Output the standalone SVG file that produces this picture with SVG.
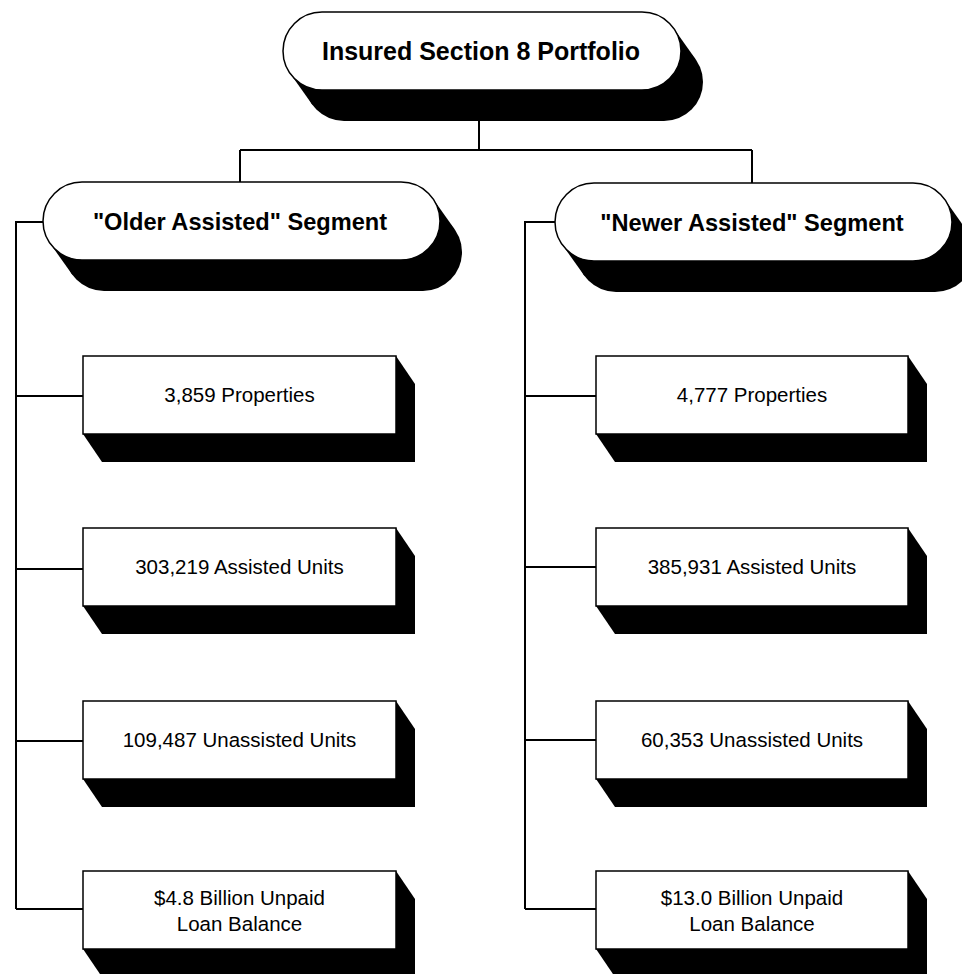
<svg xmlns="http://www.w3.org/2000/svg" width="962" height="974" viewBox="0 0 962 974">
<style>
.bg{fill:#fff}
.sh{fill:#000;stroke:none}
.pill{fill:#fff;stroke:#000;stroke-width:1.5}
.box{fill:#fff;stroke:#000;stroke-width:1.5}
.conn{fill:none;stroke:#000;stroke-width:2}
.tb{font-family:"Liberation Sans",Arial,sans-serif;font-weight:bold;fill:#000;text-anchor:middle}
.tr{font-family:"Liberation Sans",Arial,sans-serif;font-size:20.5px;fill:#000;text-anchor:middle}
</style>
<rect class="bg" x="0" y="0" width="962" height="974"/>
<g id="connectors">
<path class="conn" d="M479,121 V150 M240,150 H752 M240,150 V182 M752,150 V184"/>
<path class="conn" d="M43,222 H16 V909 M16,396 H83 M16,569 H83 M16,741 H83 M16,909 H83"/>
<path class="conn" d="M555,222 H525 V909 M525,396 H596 M525,567 H596 M525,740 H596 M525,909 H596"/>
</g>
<g id="root">
<rect class="sh" x="305" y="43" width="398" height="78" rx="39" ry="39"/>
<polygon class="sh" points="673.8,28.4 695.8,59.4 312.2,104.6 290.2,73.6"/>
<rect class="pill" x="283" y="12" width="398" height="78" rx="39" ry="39"/>
<text class="tb" x="481" y="60" font-size="25">Insured Section 8 Portfolio</text>
</g>
<g id="older">
<rect class="sh" x="65" y="213" width="397" height="78" rx="39" ry="39"/>
<polygon class="sh" points="432.8,198.4 454.8,229.4 72.2,274.6 50.2,243.6"/>
<rect class="pill" x="43" y="182" width="397" height="78" rx="39" ry="39"/>
<text class="tb" x="240" y="230" font-size="23.6">"Older Assisted" Segment</text>
</g>
<g id="newer">
<rect class="sh" x="577" y="214" width="397" height="78" rx="39" ry="39"/>
<polygon class="sh" points="944.8,199.4 966.8,230.4 584.2,275.6 562.2,244.6"/>
<rect class="pill" x="555" y="183" width="397" height="78" rx="39" ry="39"/>
<text class="tb" x="752" y="231" font-size="23.6">"Newer Assisted" Segment</text>
</g>
<g id="o1">
<polygon class="sh" points="83,434 102,462 415,462 415,384 396,356"/>
<rect class="box" x="83" y="356" width="313" height="78"/>
<text class="tr" x="239.5" y="402">3,859 Properties</text>
</g>
<g id="o2">
<polygon class="sh" points="83,606 102,634 415,634 415,556 396,528"/>
<rect class="box" x="83" y="528" width="313" height="78"/>
<text class="tr" x="239.5" y="574">303,219 Assisted Units</text>
</g>
<g id="o3">
<polygon class="sh" points="83,779 102,807 415,807 415,729 396,701"/>
<rect class="box" x="83" y="701" width="313" height="78"/>
<text class="tr" x="239.5" y="747">109,487 Unassisted Units</text>
</g>
<g id="o4">
<polygon class="sh" points="83,949 102,977 415,977 415,899 396,871"/>
<rect class="box" x="83" y="871" width="313" height="78"/>
<text class="tr" x="239.5" y="905">$4.8 Billion Unpaid</text>
<text class="tr" x="239.5" y="930.5">Loan Balance</text>
</g>
<g id="n1">
<polygon class="sh" points="596,434 615,462 927,462 927,384 908,356"/>
<rect class="box" x="596" y="356" width="312" height="78"/>
<text class="tr" x="752" y="402">4,777 Properties</text>
</g>
<g id="n2">
<polygon class="sh" points="596,606 615,634 927,634 927,556 908,528"/>
<rect class="box" x="596" y="528" width="312" height="78"/>
<text class="tr" x="752" y="574">385,931 Assisted Units</text>
</g>
<g id="n3">
<polygon class="sh" points="596,779 615,807 927,807 927,729 908,701"/>
<rect class="box" x="596" y="701" width="312" height="78"/>
<text class="tr" x="752" y="747">60,353 Unassisted Units</text>
</g>
<g id="n4">
<polygon class="sh" points="596,949 615,977 927,977 927,899 908,871"/>
<rect class="box" x="596" y="871" width="312" height="78"/>
<text class="tr" x="752" y="905">$13.0 Billion Unpaid</text>
<text class="tr" x="752" y="930.5">Loan Balance</text>
</g>
</svg>
